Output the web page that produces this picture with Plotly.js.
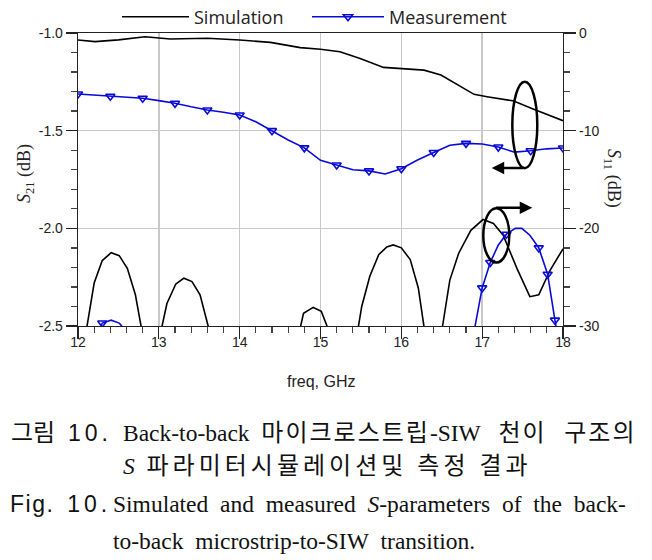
<!DOCTYPE html>
<html><head><meta charset="utf-8">
<script src="https://cdn.plot.ly/plotly-3.0.1.min.js"></script>
<style>body{margin:0;background:#fff}</style>
</head><body>
<div id="chart" style="width:652px;height:560px"></div>
<script>
// ---- S21 (left axis, dB) ----
const simS21Freq = [12.0, 12.21, 12.5, 12.83, 13.14, 13.6, 14.0, 14.38, 14.75, 15.0, 15.24, 15.49, 15.78, 15.99, 16.28, 16.49, 16.73, 16.9, 17.06, 17.39, 17.63, 18.0];
const simS21 = [-1.036, -1.044, -1.035, -1.019, -1.031, -1.027, -1.036, -1.048, -1.075, -1.083, -1.096, -1.130, -1.176, -1.183, -1.190, -1.215, -1.275, -1.314, -1.326, -1.348, -1.389, -1.449];

const measS21Freq = [12.0, 12.2, 12.4, 12.6, 12.8, 13.0, 13.2, 13.4, 13.6, 13.8, 14.0, 14.2, 14.4, 14.6, 14.8, 15.0, 15.2, 15.4, 15.6, 15.8, 16.0, 16.2, 16.4, 16.6, 16.8, 17.0, 17.2, 17.4, 17.6, 17.8, 18.0];
const measS21 = [-1.312, -1.318, -1.324, -1.327, -1.334, -1.346, -1.360, -1.378, -1.394, -1.406, -1.420, -1.454, -1.500, -1.548, -1.588, -1.652, -1.676, -1.700, -1.706, -1.722, -1.695, -1.650, -1.612, -1.575, -1.565, -1.568, -1.584, -1.610, -1.603, -1.593, -1.589];

// ---- S11 (right axis, dB) ----
const simS11Freq = [12.0, 12.1, 12.2, 12.3, 12.41, 12.51, 12.61, 12.71, 12.78, 12.86, 12.95, 13.04, 13.1, 13.21, 13.31, 13.41, 13.51, 13.61, 13.75, 14.2, 14.7, 14.75, 14.79, 14.91, 15.01, 15.08, 15.15, 15.3, 15.42, 15.47, 15.51, 15.61, 15.72, 15.82, 15.9, 16.0, 16.11, 16.21, 16.28, 16.35, 16.45, 16.51, 16.6, 16.71, 16.86, 17.01, 17.14, 17.26, 17.43, 17.59, 17.7, 17.84, 18.0];
const simS11 = [-40, -30.6, -25.6, -23.3, -22.5, -22.8, -24.1, -26.8, -30.0, -36, -36, -30.0, -27.7, -25.7, -25.1, -25.45, -26.8, -30.0, -38, -42, -32, -30.0, -28.7, -28.1, -28.5, -30.0, -33, -36, -33, -30.0, -28.0, -24.9, -22.7, -21.9, -21.7, -22.0, -23.2, -26.1, -30.0, -34, -34, -30.0, -25.3, -22.55, -20.2, -19.1, -19.5, -20.7, -24.1, -27.0, -26.8, -24.3, -22.1];

const measS11Freq = [12.0, 12.2, 12.25, 12.3, 12.41, 12.51, 12.54, 12.65, 13.5, 15.0, 16.5, 16.8, 16.91, 17.0, 17.1, 17.2, 17.3, 17.41, 17.49, 17.59, 17.7, 17.81, 17.9, 17.95, 18.0];
const measS11 = [-36, -32, -30.8, -29.7, -29.4, -29.7, -30.0, -33, -36, -38, -37, -35, -30.0, -26.1, -23.5, -21.7, -20.6, -20.0, -20.0, -20.7, -22.0, -24.7, -29.4, -32, -34];
const measS11MarkerFreq = [12.3, 17.0, 17.1, 17.3, 17.7, 17.81, 17.9];

// ---- tick labels and texts ----
const xTickVals = [12, 13, 14, 15, 16, 17, 18];
const xTickText = ['12', '13', '14', '15', '16', '17', '18'];
const yLeftTickVals = [-2.5, -2.0, -1.5, -1.0];
const yLeftTickText = ['-2.5', '-2.0', '-1.5', '-1.0'];
const yRightTickVals = [-30, -20, -10, 0];
const yRightTickText = ['-30', '-20', '-10', '0'];
const legendNames = ['Simulation', 'Measurement'];
const xTitle = 'freq, GHz';
const yLeftTitle = '<i>S</i><sub>21</sub> (dB)';
const yRightTitle = '<i>S</i><sub>11</sub> (dB)';

const NB = '\u00A0';
const K = (s, ls) => '<span style="font-size:24px;letter-spacing:' + ls + 'px">' + s + '</span>';
const SP = (s, ls) => '<span style="letter-spacing:' + ls + 'px">' + s + '</span>';
const captionKo1a = K('그림', 0) + NB + NB + SP('10.', 4);
const captionKo1b = 'Back-to-back' + NB + NB + K('마이크로스트립', 2) + '-SIW' + NB + NB + NB + K('천이', 2) + NB + NB + NB + K('구조의', 2);
const captionKo2 = '<i>S</i>' + NB + NB + K('파라미터시뮬레이션및' + NB + '측정' + NB + '결과', 4);
const captionEn1a = SP('Fig.', 1.5) + NB + NB + SP('10.', 4);
const captionEn1b = ['Simulated', 'and', 'measured', '<i>S</i>-parameters', 'of', 'the', 'back-'].join(NB + NB);
const captionEn2 = ['to-back', 'microstrip-to-SIW', 'transition.'].join(NB + NB);

const BLUE = '#0a0ad8';

const measS21MarkF = measS21Freq.filter((f, i) => i % 2 === 0);
const measS21MarkV = measS21.filter((v, i) => i % 2 === 0);
const measS11MarkV = measS11MarkerFreq.map(f => measS11[measS11Freq.indexOf(f)]);

const markerStyle = {symbol: 'triangle-down-open', size: 8, color: BLUE, line: {color: BLUE, width: 1.6}};

const traces = [
  {x: simS21Freq, y: simS21, mode: 'lines', name: legendNames[0], legend: 'legend', line: {color: '#000', width: 1.6}, xaxis: 'x', yaxis: 'y'},
  {x: [null], y: [null], mode: 'lines+markers', name: legendNames[1], legend: 'legend2', line: {color: BLUE, width: 1.6}, marker: markerStyle, xaxis: 'x', yaxis: 'y'},
  {x: measS21Freq, y: measS21, mode: 'lines', showlegend: false, line: {color: BLUE, width: 1.6}, xaxis: 'x', yaxis: 'y'},
  {x: measS21MarkF, y: measS21MarkV, mode: 'markers', showlegend: false, marker: markerStyle, xaxis: 'x', yaxis: 'y'},
  {x: simS11Freq, y: simS11, mode: 'lines', showlegend: false, line: {color: '#000', width: 1.6}, xaxis: 'x', yaxis: 'y2'},
  {x: measS11Freq, y: measS11, mode: 'lines', showlegend: false, line: {color: BLUE, width: 1.6}, xaxis: 'x', yaxis: 'y2'},
  {x: measS11MarkerFreq, y: measS11MarkV, mode: 'markers', showlegend: false, marker: markerStyle, xaxis: 'x', yaxis: 'y2'}
];

const axisCommon = {
  ticks: 'outside', tickwidth: 1.3, tickcolor: '#222', showline: true, linecolor: '#222', linewidth: 1.3,
  zeroline: false, tickmode: 'array', tickfont: {family: 'Liberation Sans, Arial, sans-serif', size: 14, color: '#222'}
};

const capFontSerif = {family: 'Liberation Serif, "Noto Sans CJK KR", serif', size: 23.5, color: '#111'};
const capFontSans = {family: 'Liberation Sans, "Noto Sans CJK KR", sans-serif', size: 23, color: '#111'};
const legendFont = {family: 'Open Sans, sans-serif', size: 18, color: '#222'};
const px2x = p => (p - 78) / 485;
const py2y = p => (326 - p) / 293;

const layout = {
  width: 652, height: 560,
  margin: {l: 78, r: 89, t: 33, b: 234, autoexpand: false},
  paper_bgcolor: '#fff', plot_bgcolor: '#fff',
  font: {family: 'Liberation Sans, Arial, sans-serif', size: 14, color: '#222'},
  showlegend: true,
  legend: {orientation: 'h', x: px2x(117), xanchor: 'left', y: 1 + 16 / 293, yanchor: 'middle',
           font: legendFont, itemwidth: 67, bgcolor: 'rgba(0,0,0,0)', borderwidth: 0},
  legend2: {orientation: 'h', x: px2x(307), xanchor: 'left', y: 1 + 16 / 293, yanchor: 'middle',
           font: legendFont, itemwidth: 72, bgcolor: 'rgba(0,0,0,0)', borderwidth: 0},
  xaxis: Object.assign({}, axisCommon, {
    range: [12, 18], tickvals: xTickVals, ticktext: xTickText, ticklen: 12, ticklabelstandoff: -9, mirror: true,
    showgrid: true, gridcolor: '#c8c8c8', gridwidth: 1.5,
    minor: {dtick: 0.2, tick0: 12, ticks: 'outside', ticklen: 6, tickcolor: '#444', showgrid: false}
  }),
  yaxis: Object.assign({}, axisCommon, {
    range: [-2.5, -1.0], tickvals: yLeftTickVals, ticktext: yLeftTickText, ticklen: 11,
    showgrid: true, gridcolor: '#c8c8c8', gridwidth: 1.5,
    minor: {dtick: 0.1, tick0: -2.5, ticks: 'outside', ticklen: 6, tickcolor: '#444', showgrid: false}
  }),
  yaxis2: Object.assign({}, axisCommon, {
    overlaying: 'y', side: 'right', range: [-30, 0], tickvals: yRightTickVals, ticktext: yRightTickText, ticklen: 12,
    showgrid: false,
    minor: {dtick: 2, tick0: -30, ticks: 'outside', ticklen: 6, tickcolor: '#444', showgrid: false}
  }),
  shapes: [
    {type: 'circle', xref: 'x', yref: 'y', x0: 17.373, x1: 17.682, y0: -1.249, y1: -1.692, line: {color: '#000', width: 2.5}},
    {type: 'circle', xref: 'x', yref: 'y2', x0: 17.014, x1: 17.336, y0: -17.94, y1: -23.51, line: {color: '#000', width: 2.5}}
  ],
  annotations: [
    {xref: 'x', yref: 'y', axref: 'x', ayref: 'y', x: 17.118, y: -1.691, ax: 17.53, ay: -1.691, text: '', showarrow: true, arrowhead: 2, arrowsize: 1, arrowwidth: 2.5, arrowcolor: '#000'},
    {xref: 'x', yref: 'y2', axref: 'x', ayref: 'y2', x: 17.62, y: -17.9, ax: 17.15, ay: -17.9, text: '', showarrow: true, arrowhead: 2, arrowsize: 1, arrowwidth: 2.5, arrowcolor: '#000'},
    {xref: 'paper', yref: 'paper', x: 0.5, y: py2y(381), text: xTitle, showarrow: false, xanchor: 'center', yanchor: 'middle', font: {family: 'Liberation Sans, Arial, sans-serif', size: 16, color: '#222'}},
    {xref: 'paper', yref: 'paper', x: 0, xshift: -53, y: py2y(174), text: yLeftTitle, textangle: -90, showarrow: false, xanchor: 'center', yanchor: 'middle', font: {family: 'Liberation Serif, serif', size: 18, color: '#222'}},
    {xref: 'paper', yref: 'paper', x: 1, xshift: 50, y: py2y(178), text: yRightTitle, textangle: 90, showarrow: false, xanchor: 'center', yanchor: 'middle', font: {family: 'Liberation Serif, serif', size: 18, color: '#222'}},
    {xref: 'paper', yref: 'paper', x: px2x(9), y: py2y(433), text: captionKo1a, showarrow: false, xanchor: 'left', yanchor: 'middle', font: capFontSans},
    {xref: 'paper', yref: 'paper', x: px2x(121), y: py2y(433), text: captionKo1b, showarrow: false, xanchor: 'left', yanchor: 'middle', font: capFontSerif},
    {xref: 'paper', yref: 'paper', x: px2x(121), y: py2y(466), text: captionKo2, showarrow: false, xanchor: 'left', yanchor: 'middle', font: capFontSerif},
    {xref: 'paper', yref: 'paper', x: px2x(8), y: py2y(504), text: captionEn1a, showarrow: false, xanchor: 'left', yanchor: 'middle', font: capFontSans},
    {xref: 'paper', yref: 'paper', x: px2x(111), y: py2y(504), text: captionEn1b, showarrow: false, xanchor: 'left', yanchor: 'middle', font: capFontSerif},
    {xref: 'paper', yref: 'paper', x: px2x(111), y: py2y(541), text: captionEn2, showarrow: false, xanchor: 'left', yanchor: 'middle', font: capFontSerif}
  ]
};

Plotly.newPlot('chart', traces, layout, {displayModeBar: false, staticPlot: true});
</script>
</body></html>
